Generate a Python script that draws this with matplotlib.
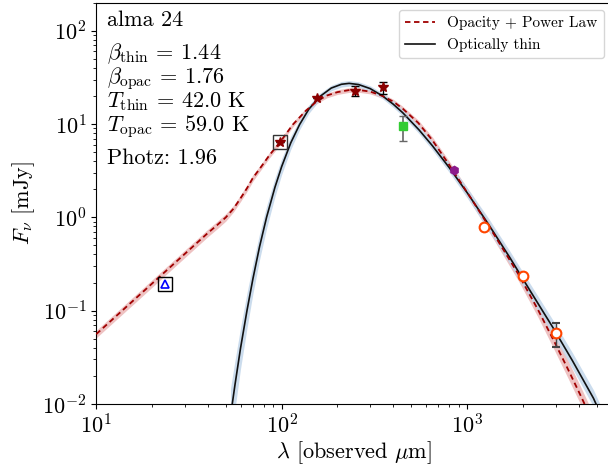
import matplotlib
matplotlib.use('Agg')
import matplotlib.pyplot as plt
import numpy as np

# --- модели ---
lam_opac = [10, 20, 30, 40, 45, 50, 55, 60, 65, 70, 76, 86, 98, 115, 135, 155, 175,
            200, 230, 260, 300, 350, 400, 450, 545, 650, 800, 1060, 1400, 1880, 2400,
            2970, 3500, 4100, 4700]
f_opac = [0.056, 0.195, 0.405, 0.68, 0.83, 1.0, 1.24, 1.6, 2.05, 2.65, 3.3, 4.65, 6.4,
          9.9, 13.9, 17.6, 20.2, 22.0, 23.1, 23.2, 22.3, 20.0, 17.4, 14.6, 10.3, 6.7,
          3.66, 1.55, 0.65, 0.25, 0.104, 0.0454, 0.0235, 0.0122, 0.0068]
err_opac = [0.04, 0.04, 0.04, 0.04, 0.04, 0.04, 0.035, 0.035, 0.035, 0.035, 0.03,
            0.03, 0.03, 0.025, 0.025, 0.025, 0.025, 0.025, 0.025, 0.025, 0.025, 0.025,
            0.025, 0.025, 0.03, 0.035, 0.04, 0.05, 0.06, 0.07, 0.08, 0.09, 0.095,
            0.095, 0.095]

lam_thin = [53, 56, 60, 65, 70, 76, 83, 92, 100, 112, 125, 140, 160, 185, 210, 231,
            260, 300, 350, 400, 450, 550, 650, 800, 1000, 1300, 1700, 2200, 2900,
            3700, 4800, 5600]
f_thin = [0.0074, 0.016, 0.0395, 0.10, 0.22, 0.485, 1.01, 2.1, 3.5, 6.3, 9.9, 14.4,
          19.6, 24.3, 26.7, 27.3, 26.5, 24.0, 20.0, 16.3, 13.2, 8.67, 5.85, 3.42,
          1.84, 0.85, 0.37, 0.16, 0.066, 0.029, 0.0115, 0.0058]
err_thin = [0.3, 0.26, 0.22, 0.19, 0.16, 0.14, 0.12, 0.10, 0.085, 0.07, 0.055, 0.045,
            0.035, 0.03, 0.03, 0.03, 0.03, 0.03, 0.03, 0.035, 0.035, 0.04, 0.045,
            0.05, 0.055, 0.065, 0.07, 0.075, 0.08, 0.085, 0.09, 0.095]

# --- фотометрия ---
lam_mips, f_mips = 23.5, 0.193
lam_star = [98, 155, 250, 350]
f_star = [6.48, 18.9, 22.6, 25.0]
ferr_lo_star = [0, 0, 2.6, 4.0]
ferr_hi_star = [0, 0, 3.0, 3.3]
lam_scuba, f_scuba, scuba_lo, scuba_hi = 450, 9.54, 2.95, 2.66
lam_850, f_850 = 850, 3.22
lam_alma = [1240, 2000, 3000]
f_alma = [0.794, 0.236, 0.0577]
alma_lo = [0, 0, 0.0169]
alma_hi = [0, 0, 0.0161]

plt.rcParams['font.family'] = 'serif'
plt.rcParams['font.serif'] = ['cmr10']
plt.rcParams['mathtext.fontset'] = 'cm'
plt.rcParams['axes.formatter.use_mathtext'] = True
plt.rcParams['font.size'] = 16

fig = plt.figure(figsize=(6.08, 4.68), dpi=100)
ax = fig.add_axes([0.1582, 0.1368, 0.8475, 0.8575])

lo = np.array(f_opac) * 10 ** (-np.array(err_opac))
hi = np.array(f_opac) * 10 ** np.array(err_opac)
ax.fill_between(lam_opac, lo, hi, color='#ecb8b8', alpha=0.85, lw=0, zorder=1)
lo = np.array(f_thin) * 10 ** (-np.array(err_thin))
hi = np.array(f_thin) * 10 ** np.array(err_thin)
ax.fill_between(lam_thin, lo, hi, color='#c2d6ea', alpha=0.85, lw=0, zorder=1)

ax.plot(lam_opac, f_opac, color='#a00000', ls=(0, (3, 2)), lw=1.3,
        label='Opacity + Power Law', zorder=3)
ax.plot(lam_thin, f_thin, color='#111111', lw=1.2, label='Optically thin', zorder=2)

# точки
ax.plot(lam_mips, f_mips, marker='^', mfc='none', mec='blue', ms=6, mew=1.2, zorder=5)
ax.plot(lam_mips, f_mips, marker='s', mfc='none', mec='black', ms=10, mew=1, zorder=5)
ax.errorbar(lam_star, f_star, yerr=[ferr_lo_star, ferr_hi_star], fmt='*',
            color='#8b0000', ms=7, ecolor='black', elinewidth=1, capsize=3, zorder=5)
ax.plot(lam_star[0], f_star[0], marker='s', mfc='none', mec='#333333', ms=10, mew=1,
        zorder=5)
ax.errorbar(lam_scuba, f_scuba, yerr=[[scuba_lo], [scuba_hi]], fmt='s',
            color='#33cc33', ms=5.5, ecolor='#666666', elinewidth=1.2, capsize=3,
            zorder=5)
ax.plot(lam_850, f_850, marker='h', color='#8b1a8b', ms=6, ls='none', zorder=5)
ax.errorbar(lam_alma, f_alma, yerr=[alma_lo, alma_hi], fmt='o', mfc='white',
            mec='#ff4500', mew=1.5, ms=7, ecolor='#444444', elinewidth=1, capsize=3,
            zorder=5)

ax.set_xscale('log')
ax.set_yscale('log')
ax.set_xlim(10, 6000)
ax.set_ylim(0.01, 200)
ax.spines['right'].set_visible(False)
ax.set_xlabel(r'$\lambda$ [observed $\mu$m]', labelpad=1)
ax.set_ylabel(r'$F_\nu$ [mJy]')

ax.legend(loc='upper right', fontsize=11)

# подписи
def ftext(x, y, s):
    fig.text(x / 608, 1 - y / 468, s, va='baseline', ha='left', fontsize=16)

ftext(107, 26.5, 'alma 24')
ftext(107, 59.3, r'$\beta_{\rm thin}$ = 1.44')
ftext(107, 83, r'$\beta_{\rm opac}$ = 1.76')
ftext(107, 107.5, r'$T_{\rm thin}$ = 42.0 K')
ftext(107, 131.5, r'$T_{\rm opac}$ = 59.0 K')
ftext(107, 164, 'Photz: 1.96')

plt.savefig('out.png', dpi=100)
